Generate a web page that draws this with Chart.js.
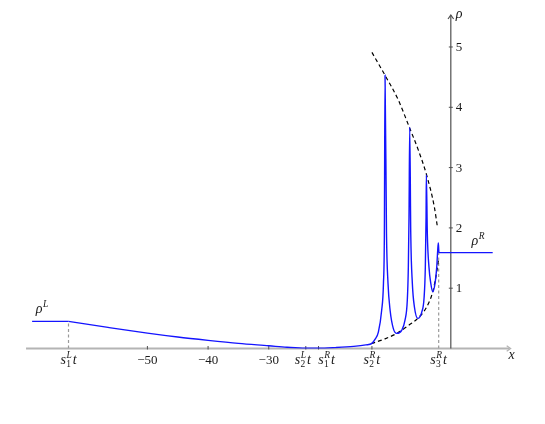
<!DOCTYPE html>
<html lang="en">
<head>
<meta charset="UTF-8">
<title>Riemann solution</title>
<script src="https://cdn.jsdelivr.net/npm/chart.js"></script>
<style>
  body { margin: 0; background: #ffffff; }
  #wrap { width: 545px; height: 424px; }
</style>
</head>
<body>
<div id="wrap"><canvas id="chart" width="545" height="424"></canvas></div>
<script>
// density profile rho(x) (left constant state is its own piece)
const leftX = [-69, -63];
const solX = [-63, -56.5, -50, -45, -40, -35, -30, -27, -24, -21.8, -19, -16, -14, -13,
  -12.5, -11.94, -11.4, -11.1, -10.95, -10.84, -10.6, -10.35, -10.0, -9.47, -8.9,
  -8.1, -7.55, -7.17, -7.0, -6.89, -6.77, -6.6, -6.34, -6.0, -5.45,
  -4.8, -4.4, -4.2, -4.08, -4.03, -3.87, -3.6, -3.3, -2.98,
  -2.6, -2.32, -2.16, -2.06, -1.98, -1.95, 6.9];
const solY = [0.45, 0.35, 0.255, 0.19, 0.135, 0.085, 0.045, 0.02, 0.004, 0.004, 0.015, 0.035, 0.06, 0.085,
  0.15, 0.27, 0.63, 1.08, 1.9, 4.53, 1.9, 1.08, 0.63, 0.33, 0.25,
  0.30, 0.47, 0.8, 1.35, 2.18, 3.67, 1.9, 1.08, 0.69, 0.5,
  0.6, 0.85, 1.35, 2.18, 2.88, 1.9, 1.35, 1.08, 0.94,
  1.08, 1.35, 1.63, 1.75, 1.62, 1.59, 1.59];

// upper and lower dashed envelopes
const upX = [-13.0, -10.84, -8.65, -6.84, -5.35, -3.97, -2.72, -2.2];
const upY = [4.91, 4.53, 4.12, 3.67, 3.29, 2.87, 2.35, 2.01];
const lowX = [-13.1, -10.84, -8.9, -7.0, -5.45, -3.97, -2.98, -2.32, -2.05];
const lowY = [0.08, 0.16, 0.25, 0.38, 0.50, 0.69, 0.94, 1.27, 1.46];

const rhoL = 0.45;
const rhoR = 1.59;

const xTicks = [-50, -40, -30];
const yTicks = [1, 2, 3, 4, 5];
// wave positions s t
const sPos = [-63, -23.9, -21.8, -13.0, -2.0];
const sSub = ['1', '2', '1', '2', '3'];
const sSup = ['L', 'L', 'R', 'R', 'R'];

const pts = (xs, ys) => xs.map((x, i) => ({ x: x, y: ys[i] }));

const serif = '"Liberation Serif", "DejaVu Serif", serif';

function arrow(ctx, x, y, dx, dy) {
  const s = 4;
  ctx.beginPath();
  ctx.moveTo(x - dx * s - dy * s * 0.7, y - dy * s - dx * s * 0.7);
  ctx.lineTo(x, y);
  ctx.lineTo(x - dx * s + dy * s * 0.7, y - dy * s + dx * s * 0.7);
  ctx.stroke();
}

// italic base with stacked sub/superscript, optional tail
function mathText(ctx, x, y, base, sub, sup, tail, align) {
  ctx.font = 'italic 14px ' + serif;
  const wb = ctx.measureText(base).width;
  const wt = tail ? ctx.measureText(tail).width : 0;
  ctx.font = '9.5px ' + serif;
  const ws = sub ? ctx.measureText(sub).width : 0;
  ctx.font = 'italic 9.5px ' + serif;
  const wp = sup ? ctx.measureText(sup).width : 0;
  const wm = Math.max(ws, wp);
  const total = wb + wm + (tail ? 1.5 + wt : 0);
  let left = align === 'left' ? x : x - total / 2;
  ctx.textAlign = 'left';
  ctx.textBaseline = 'alphabetic';
  ctx.font = 'italic 14px ' + serif;
  ctx.fillText(base, left, y);
  if (sub) { ctx.font = '9.5px ' + serif; ctx.fillText(sub, left + wb + 0.3, y + 3); }
  if (sup) { ctx.font = 'italic 9.5px ' + serif; ctx.fillText(sup, left + wb + 0.5, y - 6); }
  if (tail) { ctx.font = 'italic 14px ' + serif; ctx.fillText(tail, left + wb + wm + 1.5, y); }
}

const axesPlugin = {
  id: 'axes',
  beforeDatasetsDraw(chart) {
    const { ctx, scales: { x, y } } = chart;
    const x0 = x.getPixelForValue(0);
    const y0 = y.getPixelForValue(0);
    ctx.save();
    // x axis
    const xl = x.getPixelForValue(-70);
    const xr = x.getPixelForValue(9.7);
    ctx.strokeStyle = '#b4b4b4';
    ctx.lineWidth = 2;
    ctx.beginPath(); ctx.moveTo(xl, y0); ctx.lineTo(xr, y0); ctx.stroke();
    ctx.lineWidth = 1.2;
    arrow(ctx, xr + 1, y0, 1, 0);
    // y axis
    const yt = y.getPixelForValue(5.53);
    ctx.strokeStyle = '#505050';
    ctx.lineWidth = 1.2;
    ctx.beginPath(); ctx.moveTo(x0, y0); ctx.lineTo(x0, yt); ctx.stroke();
    arrow(ctx, x0, yt, 0, -1);
    // tick marks
    ctx.lineWidth = 1;
    ctx.strokeStyle = '#505050';
    xTicks.concat(sPos.slice(1, 4)).forEach(v => {
      const px = x.getPixelForValue(v);
      ctx.beginPath(); ctx.moveTo(px, y0 - 2.5); ctx.lineTo(px, y0 + 1); ctx.stroke();
    });
    yTicks.forEach(v => {
      const py = y.getPixelForValue(v);
      ctx.beginPath(); ctx.moveTo(x0 - 2, py); ctx.lineTo(x0 + 2, py); ctx.stroke();
    });
    // tick labels
    ctx.fillStyle = '#1a1a1a';
    ctx.font = '13px ' + serif;
    ctx.textAlign = 'center';
    ctx.textBaseline = 'alphabetic';
    xTicks.forEach(v => {
      ctx.fillText('\u2212' + Math.abs(v), x.getPixelForValue(v), y0 + 15);
    });
    ctx.textAlign = 'left';
    yTicks.forEach(v => {
      ctx.fillText(String(v), x0 + 5, y.getPixelForValue(v) + 4);
    });
    const shift = [0, -3, 8, 0, 0];
    sPos.forEach((v, i) => {
      mathText(ctx, x.getPixelForValue(v) + shift[i], y0 + 15, 's', sSub[i], sSup[i], 't');
    });
    // axis names and state labels
    ctx.font = 'italic 14px ' + serif;
    ctx.fillText('x', x.getPixelForValue(9.5), y0 + 10);
    ctx.fillText('\u03c1', x0 + 5, yt + 3);
    mathText(ctx, x.getPixelForValue(-68.4), y.getPixelForValue(rhoL) - 8, '\u03c1', null, 'L', null, 'left');
    mathText(ctx, x.getPixelForValue(3.4), y.getPixelForValue(rhoR) - 8, '\u03c1', null, 'R', null, 'left');
    ctx.restore();
  }
};

const ctx = document.getElementById('chart').getContext('2d');

const blue = '#1414ff';

const chart = new Chart(ctx, {
  type: 'line',
  data: {
    datasets: [
      {
        data: pts(leftX, [rhoL, rhoL]),
        borderColor: blue,
        borderWidth: 1.4,
        order: 0
      },
      {
        data: pts(solX, solY),
        borderColor: blue,
        borderWidth: 1.4,
        cubicInterpolationMode: 'monotone',
        order: 0
      },
      {
        data: pts(upX, upY),
        borderColor: '#000000',
        borderWidth: 1.2,
        borderDash: [4, 3],
        cubicInterpolationMode: 'monotone',
        order: 1
      },
      {
        data: pts(lowX, lowY),
        borderColor: '#000000',
        borderWidth: 1.2,
        borderDash: [4, 3],
        cubicInterpolationMode: 'monotone',
        order: 1
      },
      {
        data: [{ x: sPos[0], y: 0 }, { x: sPos[0], y: rhoL }],
        borderColor: '#9a9a9a',
        borderWidth: 1.2,
        borderDash: [3, 2.5],
        order: 2
      },
      {
        data: [{ x: sPos[4], y: 0 }, { x: sPos[4], y: rhoR }],
        borderColor: '#9a9a9a',
        borderWidth: 1.2,
        borderDash: [3, 2.5],
        order: 2
      }
    ]
  },
  options: {
    responsive: false,
    animation: false,
    layout: { padding: { left: 23, right: 33.5, top: 10.8, bottom: 75.5 } },
    elements: { point: { radius: 0 } },
    scales: {
      x: { type: 'linear', min: -70.5, max: 10, display: false },
      y: { min: 0, max: 5.6, display: false }
    },
    plugins: {
      legend: { display: false },
      tooltip: { enabled: false }
    }
  },
  plugins: [axesPlugin]
});
</script>
</body>
</html>
